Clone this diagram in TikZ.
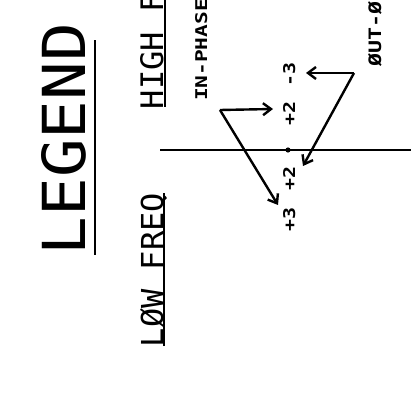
\documentclass[tikz,border=0pt]{standalone}
\usepackage{fontspec}
\usepackage{graphicx}
\newfontfamily\plotfont{DejaVu Sans Mono}
\usetikzlibrary{arrows.meta}
\newcommand{\fitto}[3]{\resizebox{#1}{#2}{#3}}

\begin{document}
\begin{tikzpicture}[x=1pt, y=-1pt,
  lbl/.style={rotate=90, anchor=base, inner sep=0pt},
  uline/.style={line width=2.2pt},
  ptr/.style={line width=2.4pt, -{Straight Barb[length=8pt,width=12pt]}}
]
\useasboundingbox (0,0) rectangle (418,414);
\clip (0,0) rectangle (418,414);

% titles
\node[lbl] (legend) at (85,139) {\fitto{232pt}{44pt}{\plotfont LEGEND}};
\node[lbl] (high) at (163,22) {\fitto{174pt}{23pt}{\plotfont HIGH FREQ}};
\node[lbl] (low) at (163,270) {\fitto{154pt}{23pt}{\plotfont LØW FREQ}};
\draw[uline] (95,255) -- (95,40);
\draw[uline] (165,107) -- (165,-5);
\draw[uline] (164,346) -- (164,193);

\node[lbl] (inph) at (207,50) {\fitto{102pt}{12pt}{\plotfont\bfseries IN-PHASE}};
\node[lbl] (outph) at (381,-12) {\fitto{156pt}{13pt}{\plotfont\bfseries ØUT-ØF-PHASE}};

% axis
\coordinate (axa) at (160,150);
\coordinate (axb) at (411,150);
\draw[line width=2.7pt] (axa) -- (axb);
\fill (288,150) circle (2.6pt);

\node[lbl] (p3) at (295,220) {\fitto{24pt}{12pt}{\plotfont\bfseries +3}};
\node[lbl] (p2) at (295,179) {\fitto{24pt}{12pt}{\plotfont\bfseries +2}};
\node[lbl] (q2) at (295,114) {\fitto{24pt}{12pt}{\plotfont\bfseries +2}};
\node[lbl] (q3) at (295,75) {\fitto{24pt}{12pt}{\plotfont\bfseries -3}};

% pointers
\coordinate (inv) at (220,110);
\coordinate (in1) at (273,109);
\coordinate (in2) at (278,205);
\coordinate (outv) at (354,73);
\coordinate (out1) at (306,73);
\coordinate (out2) at (303,166);
\draw[ptr] (inv) -- (in1);
\draw[ptr] (inv) -- (in2);
\draw[ptr] (outv) -- (out1);
\draw[ptr] (outv) -- (out2);
\end{tikzpicture}
\end{document}
